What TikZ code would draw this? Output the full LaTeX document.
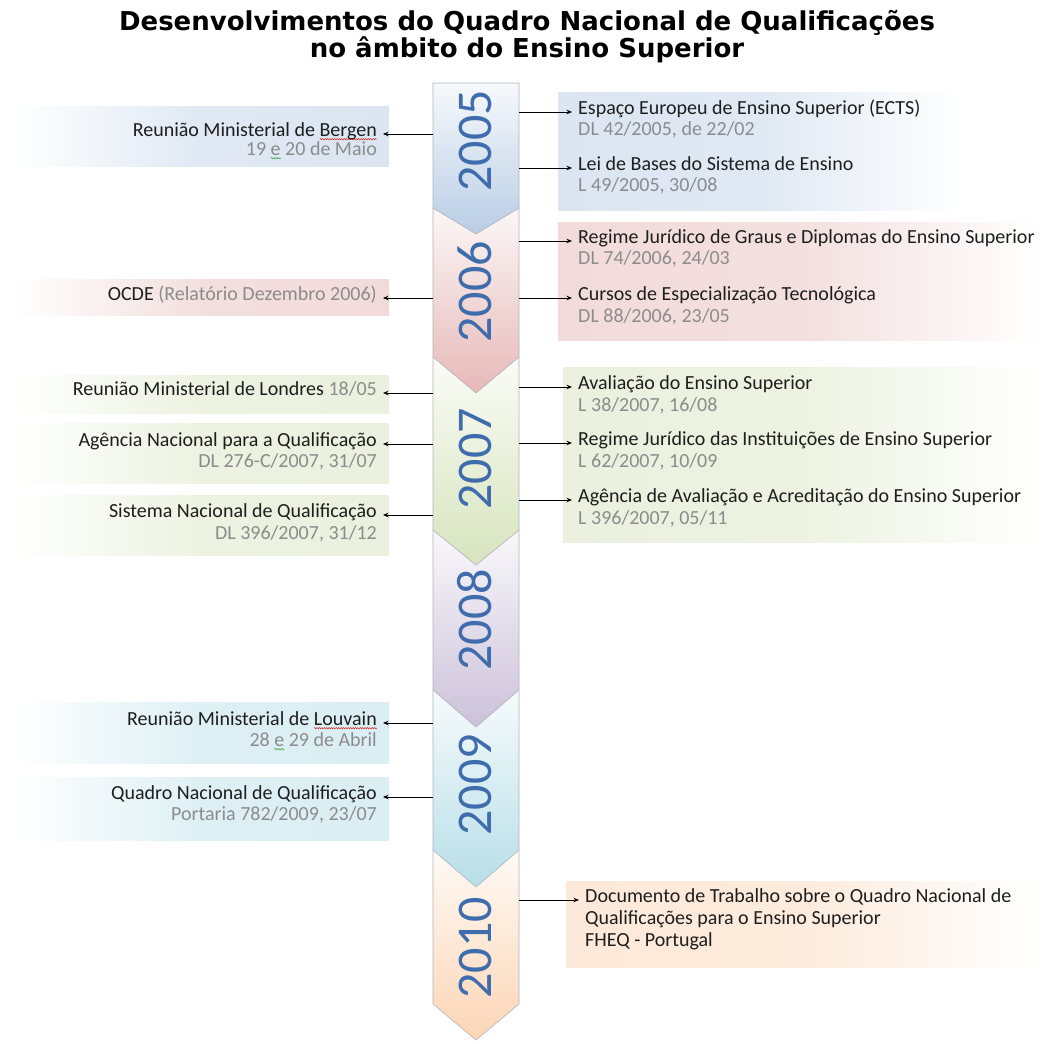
\documentclass[tikz,border=0pt]{standalone}
\usepackage{fontspec}
\setmainfont{Carlito}
\newfontfamily\titlefont{DejaVu Sans}
\usetikzlibrary{arrows.meta,decorations.pathmorphing}

\definecolor{txt}{RGB}{30,30,30}
\definecolor{gry}{RGB}{140,140,140}
\definecolor{yrblue}{RGB}{62,108,172}
\definecolor{segline}{RGB}{178,178,188}
\definecolor{squigred}{RGB}{210,40,40}
\definecolor{squiggreen}{RGB}{60,160,60}
% box fills
\definecolor{bxblue}{RGB}{220,230,242}
\definecolor{bxpink}{RGB}{242,220,219}
\definecolor{bxgreen}{RGB}{235,241,222}
\definecolor{bxcyan}{RGB}{218,238,243}
\definecolor{bxpeach}{RGB}{253,233,217}
% timeline segment fills
\definecolor{sgblue}{RGB}{185,205,229}
\definecolor{sgpink}{RGB}{230,185,184}
\definecolor{sggreen}{RGB}{215,228,189}
\definecolor{sgpurple}{RGB}{204,193,218}
\definecolor{sgcyan}{RGB}{183,222,232}
\definecolor{sgpeach}{RGB}{252,213,181}

\newlength\wvlen
\newcommand\wavyword[2]{\settowidth{\wvlen}{#2}\rlap{\tikz[overlay,baseline=0pt]\draw[draw=#1,line width=0.5pt,decorate,decoration={snake,amplitude=0.7pt,segment length=2.4pt}] (0pt,-2.8pt) -- (\wvlen,-2.8pt);}#2}

\newcommand\tlseg[4]{\draw[segstyle, top color=#4!12, bottom color=#4] (433,#1) -- (519,#1) -- (519,#2) -- (476,#3) -- (433,#2) -- cycle;}

\begin{document}
\begin{tikzpicture}[x=1pt,y=-1pt,
  lbl/.style={inner sep=0pt, font=\fontsize{20}{21}\selectfont, text=txt},
  sub/.style={lbl, text=gry},
  arr/.style={-{Stealth[length=5.5pt,width=4.5pt]}, line width=0.8pt, draw=black},
  segstyle/.style={draw=segline, line width=0.6pt},
  yr/.style={rotate=90, inner sep=0pt, font=\fontsize{50}{50}\selectfont, text=yrblue},
  lbox/.style={left color=white, right color=#1, middle color=#1!90},
  rbox/.style={left color=#1, right color=white, middle color=#1!90}]

\useasboundingbox (0,0) rectangle (1043,1044);

% title
\node[font=\titlefont\bfseries\fontsize{26}{23}\selectfont, align=center, inner sep=0pt, anchor=north] (title) at (527,10)
  {Desenvolvimentos do Quadro Nacional de Qualificações\\no âmbito do Ensino Superior};

% background boxes (left)
\fill[lbox=bxblue]  (12,106) rectangle (389,166);
\fill[lbox=bxpink]  (12,279) rectangle (389,315);
\fill[lbox=bxgreen] (12,375) rectangle (389,413);
\fill[lbox=bxgreen] (12,423) rectangle (389,483);
\fill[lbox=bxgreen] (12,495) rectangle (389,555);
\fill[lbox=bxcyan]  (12,702) rectangle (389,763);
\fill[lbox=bxcyan]  (12,777) rectangle (389,840);
% background boxes (right)
\fill[rbox=bxblue]  (558,92) rectangle (962,210);
\fill[rbox=bxpink]  (558,222) rectangle (1043,340);
\fill[rbox=bxgreen] (563,367) rectangle (1043,542);
\fill[rbox=bxpeach] (566,881) rectangle (1043,967);

% timeline segments (bottom first)
\tlseg{850}{1004}{1040}{sgpeach}
\tlseg{690}{850}{887}{sgcyan}
\tlseg{530}{690}{727}{sgpurple}
\tlseg{357}{530}{565}{sggreen}
\tlseg{208}{357}{393}{sgpink}
\tlseg{83}{208}{234}{sgblue}

\node[yr] (y2005) at (475,141) {2005};
\node[yr] (y2006) at (475,292) {2006};
\node[yr] (y2007) at (475,459) {2007};
\node[yr] (y2008) at (475,620) {2008};
\node[yr] (y2009) at (475,785) {2009};
\node[yr] (y2010) at (475,948) {2010};

\coordinate (colL) at (433,0);
\coordinate (colR) at (519,0);

% ---------- left labels ----------
\node[lbl, anchor=mid east] (bergen) at (377,134) {Reunião Ministerial de \wavyword{squigred}{Bergen}};
\node[sub, anchor=mid east] (bergenB) at (377,153) {19 \wavyword{squiggreen}{e} 20 de Maio};
\node[lbl, anchor=mid east] (ocde) at (377,298) {OCDE \textcolor{gry}{(Relatório Dezembro 2006)}};
\node[lbl, anchor=mid east] (londres) at (377,393) {Reunião Ministerial de Londres \textcolor{gry}{18/05}};
\node[lbl, anchor=mid east] (anq) at (377,444) {Agência Nacional para a Qualificação};
\node[sub, anchor=mid east] (anqB) at (377,465) {DL 276-C/2007, 31/07};
\node[lbl, anchor=mid east] (snq) at (377,515) {Sistema Nacional de Qualificação};
\node[sub, anchor=mid east] (snqB) at (377,537) {DL 396/2007, 31/12};
\node[lbl, anchor=mid east] (louvain) at (377,723) {Reunião Ministerial de \wavyword{squigred}{Louvain}};
\node[sub, anchor=mid east] (louvainB) at (377,744) {28 \wavyword{squiggreen}{e} 29 de Abril};
\node[lbl, anchor=mid east] (qnq) at (377,797) {Quadro Nacional de Qualificação};
\node[sub, anchor=mid east] (qnqB) at (377,818) {Portaria 782/2009, 23/07};

\foreach \n in {bergen,ocde,londres,anq,snq,louvain,qnq}
  \draw[arr] (colL |- \n.mid east) -- ([xshift=6pt]\n.mid east);

% ---------- right labels ----------
\node[lbl, anchor=mid west] (ects) at (578,112) {Espaço Europeu de Ensino Superior (ECTS)};
\node[sub, anchor=mid west] (ectsB) at (578,133) {DL 42/2005, de 22/02};
\node[lbl, anchor=mid west] (lbse) at (578,168) {Lei de Bases do Sistema de Ensino};
\node[sub, anchor=mid west] (lbseB) at (578,189) {L 49/2005, 30/08};
\node[lbl, anchor=mid west] (rjgd) at (578,241) {Regime Jurídico de Graus e Diplomas do Ensino Superior};
\node[sub, anchor=mid west] (rjgdB) at (578,262) {DL 74/2006, 24/03};
\node[lbl, anchor=mid west] (cet) at (578,298) {Cursos de Especialização Tecnológica};
\node[sub, anchor=mid west] (cetB) at (578,320) {DL 88/2006, 23/05};
\node[lbl, anchor=mid west] (aes) at (578,387) {Avaliação do Ensino Superior};
\node[sub, anchor=mid west] (aesB) at (578,409) {L 38/2007, 16/08};
\node[lbl, anchor=mid west] (rjies) at (578,443) {Regime Jurídico das Instituições de Ensino Superior};
\node[sub, anchor=mid west] (rjiesB) at (578,465) {L 62/2007, 10/09};
\node[lbl, anchor=mid west] (a3es) at (578,500) {Agência de Avaliação e Acreditação do Ensino Superior};
\node[sub, anchor=mid west] (a3esB) at (578,522) {L 396/2007, 05/11};
\node[lbl, anchor=mid west] (doc) at (585,900) {Documento de Trabalho sobre o Quadro Nacional de};
\node[lbl, anchor=mid west] (docB) at (585,922) {Qualificações para o Ensino Superior};
\node[lbl, anchor=mid west] (docC) at (585,944) {FHEQ - Portugal};

\foreach \n in {ects,lbse,rjgd,cet,aes,rjies,a3es,doc}
  \draw[arr] (colR |- \n.mid west) -- ([xshift=-6pt]\n.mid west);

\end{tikzpicture}
\end{document}
